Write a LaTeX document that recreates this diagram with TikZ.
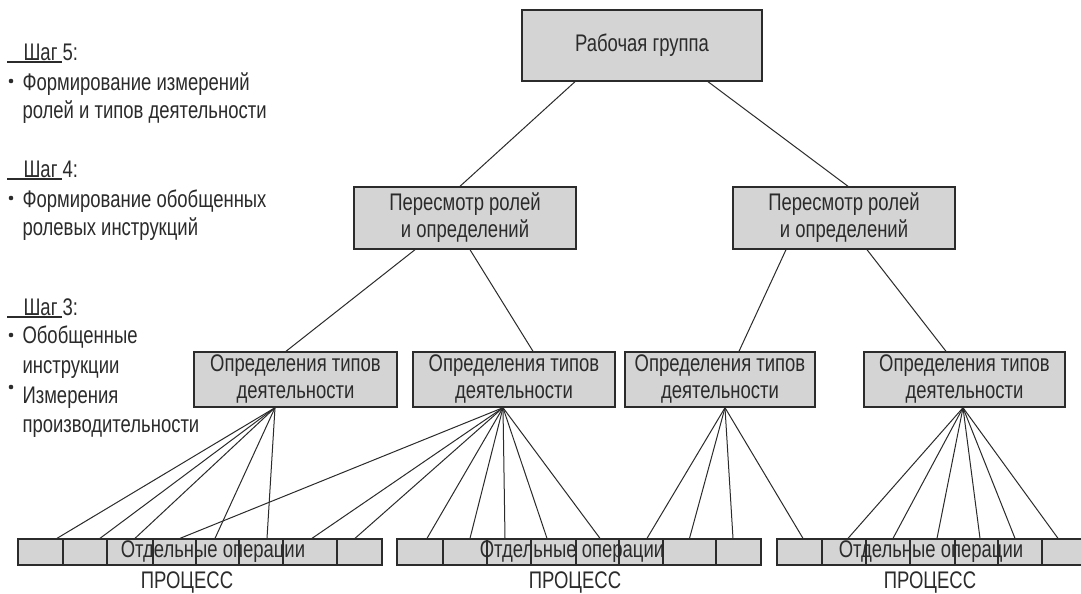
\documentclass[tikz,border=0pt]{standalone}
\usepackage{fontspec}
\setmainfont[FakeStretch=0.77]{Liberation Sans}

\definecolor{boxgray}{HTML}{D4D4D4}
\definecolor{ink}{HTML}{2B2B2B}

\begin{document}
\begin{tikzpicture}[x=1pt,y=-1pt,
    font=\fontsize{24}{27}\selectfont, text=ink,
    box/.style={draw=ink, line width=1.4pt, fill=boxgray, align=center, inner sep=0pt},
    cell/.style={draw=ink, line width=1.3pt, fill=boxgray, minimum height=26pt, inner sep=0pt},
    link/.style={draw=ink, line width=1pt},
    steptxt/.style={anchor=base west, align=left, font=\fontsize{24}{28}\selectfont}]
  \useasboundingbox[fill=white] (0,0) rectangle (1081,594);

  % hierarchy
  \node[box, minimum width=240pt, minimum height=71pt] (wg) at (642,45.5) {Рабочая группа};
  \node[box, minimum width=222pt, minimum height=62pt] (rv1) at (465,218) {Пересмотр ролей\\и определений};
  \node[box, minimum width=222pt, minimum height=62pt] (rv2) at (844,218) {Пересмотр ролей\\и определений};
  \node[box, minimum width=203pt, minimum height=55pt] (td1) at (295.5,379.5) {Определения типов\\деятельности};
  \node[box, minimum width=202pt, minimum height=55pt] (td2) at (514,379.5) {Определения типов\\деятельности};
  \node[box, minimum width=190pt, minimum height=55pt] (td3) at (720,379.5) {Определения типов\\деятельности};
  \node[box, minimum width=201pt, minimum height=55pt] (td4) at (964.5,379.5) {Определения типов\\деятельности};

  \draw[link] ([xshift=-67pt]wg.south) -- ([xshift=-5pt]rv1.north);
  \draw[link] ([xshift=66pt]wg.south) -- ([xshift=4pt]rv2.north);
  \draw[link] ([xshift=-50pt]rv1.south) -- ([xshift=-9.5pt]td1.north);
  \draw[link] ([xshift=5pt]rv1.south) -- ([xshift=19pt]td2.north);
  \draw[link] ([xshift=-58pt]rv2.south) -- ([xshift=19pt]td3.north);
  \draw[link] ([xshift=23pt]rv2.south) -- ([xshift=-18.5pt]td4.north);

  % operation rows
  \foreach \l/\r [count=\i] in {18/63,63/107,107/153,153/196,196/239,239/283,283/337,337/382}
    \node[cell, minimum width=\r-\l] (a\i) at ({(\l+\r)/2},552) {};
  \foreach \l/\r [count=\i] in {397/443,443/487,487/531,531/576,576/619,619/663,663/716,716/761}
    \node[cell, minimum width=\r-\l] (b\i) at ({(\l+\r)/2},552) {};
  \foreach \l/\r [count=\i] in {777/822,822/866,866/910,910/955,955/998,998/1042,1042/1096,1096/1141}
    \node[cell, minimum width=\r-\l] (c\i) at ({(\l+\r)/2},552) {};

  \foreach \c/\d in {a1/16.5,a2/15,a3/5,a5/-2.5,a6/6}
    \draw[link] ([xshift=-20.5pt]td1.south) -- ([xshift=\d pt]\c.north);
  \foreach \c/\d in {a4/5.5,a7/2,a8/-4.5,b1/7,b2/5,b3/-4,b4/-6.5,b5/2.5}
    \draw[link] ([xshift=-11pt]td2.south) -- ([xshift=\d pt]\c.north);
  \foreach \c/\d in {b6/6,b7/0,b8/-5.5,c1/3.5}
    \draw[link] ([xshift=5pt]td3.south) -- ([xshift=\d pt]\c.north);
  \foreach \c/\d in {c2/4,c3/5,c4/4.5,c5/3.5,c6/-5,c7/-11}
    \draw[link] ([xshift=-1.5pt]td4.south) -- ([xshift=\d pt]\c.north);

  \node (op1) at (213,552) {Отдельные операции};
  \node (op2) at (572,552) {Отдельные операции};
  \node (op3) at (931,552) {Отдельные операции};
  \node (pr1) at (187,583) {ПРОЦЕСС};
  \node (pr2) at (575,583) {ПРОЦЕСС};
  \node (pr3) at (930,583) {ПРОЦЕСС};

  % steps on the left (base = last line)
  \node[steptxt] (s5) at (20,60) {Шаг 5:};
  \node[steptxt] (s5a) at (19,118) {Формирование измерений\\ролей и типов деятельности};
  \node[steptxt] (s4) at (20,177) {Шаг 4:};
  \node[steptxt] (s4a) at (19,235) {Формирование обобщенных\\ролевых инструкций};
  \node[steptxt] (s3) at (20,315) {Шаг 3:};
  \node[steptxt, font=\fontsize{24}{30}\selectfont] (s3a) at (19,373) {Обобщенные\\инструкции};
  \node[steptxt, font=\fontsize{24}{29}\selectfont] (s3b) at (19,432) {Измерения\\производительности};
  \foreach \s in {s5,s4,s3}
    \draw[ink, line width=1.3pt] ([xshift=-13pt,yshift=-2pt]\s.base west) -- ++(55,0);
  \foreach \y in {81,198,335,387}
    \fill[ink] (11,\y) circle (2.3);
\end{tikzpicture}
\end{document}
